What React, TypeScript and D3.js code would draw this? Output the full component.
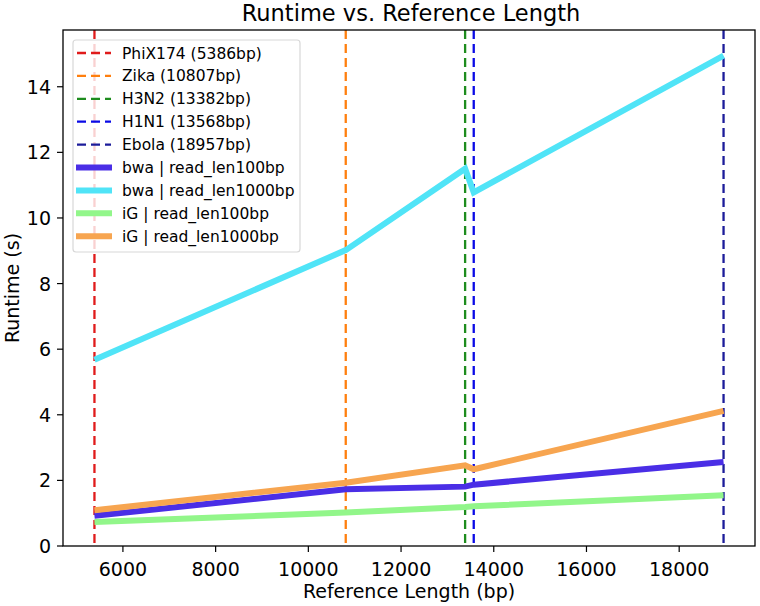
import React from "react";
import * as d3 from "d3";

const refNames = ["PhiX174", "Zika", "H3N2", "H1N1", "Ebola"];
const refLengths = [5386, 10807, 13382, 13568, 18957];
const refColors = ["#e01b1b", "#ff7f0e", "#1e8c1e", "#0a0ae6", "#1c1c9a"];

const seriesNames = ["bwa | read_len100bp", "bwa | read_len1000bp", "iG | read_len100bp", "iG | read_len1000bp"];
const seriesColors = ["#4a2ee6", "#50e4f7", "#92f68a", "#f7a550"];
const bwa100 = [0.92, 1.73, 1.81, 1.87, 2.56];
const bwa1000 = [5.68, 9.02, 11.5, 10.78, 14.95];
const ig100 = [0.73, 1.02, 1.19, 1.21, 1.55];
const ig1000 = [1.09, 1.93, 2.46, 2.34, 4.12];
const seriesValues = [bwa100, bwa1000, ig100, ig1000];

const xTicks = [6000, 8000, 10000, 12000, 14000, 16000, 18000];
const yTicks = [0, 2, 4, 6, 8, 10, 12, 14];

const W = 760, H = 606;
const left = 63, right = 755, top = 30, bottom = 546;
const font = "DejaVu Sans, sans-serif";

export default function App() {
  const span = 18957 - 5386;
  const x = d3.scaleLinear().domain([5386 - span * 0.05, 18957 + span * 0.05]).range([left, right]);
  const y = d3.scaleLinear().domain([0, 15.73]).range([bottom, top]);
  const line = d3.line<number>().x((_, i) => x(refLengths[i])).y((v) => y(v));

  const legendItems = [
    ...refNames.map((n, i) => ({ label: `${n} (${refLengths[i]}bp)`, color: refColors[i], dashed: true })),
    ...seriesNames.map((n, i) => ({ label: n, color: seriesColors[i], dashed: false })),
  ];

  return (
    <svg width={W} height={H} style={{ position: "absolute", left: 0, top: 0, background: "#fff" }}>
      <rect x={0} y={0} width={W} height={H} fill="#fff" />
      <text x={(left + right) / 2 + 2} y={21} textAnchor="middle" fontFamily={font} fontSize={22.5} fill="#000">
        Runtime vs. Reference Length
      </text>
      <defs>
        <clipPath id="plot">
          <rect x={left} y={top} width={right - left} height={bottom - top} />
        </clipPath>
      </defs>
      <g clipPath="url(#plot)">
        {refLengths.map((r, i) => (
          <line key={i} x1={x(r)} x2={x(r)} y1={top} y2={bottom} stroke={refColors[i]} strokeWidth={2.3} strokeDasharray="9,5" />
        ))}
        {seriesValues.map((vals, i) => (
          <path key={i} d={line(vals) || ""} fill="none" stroke={seriesColors[i]} strokeWidth={6} strokeLinejoin="miter" />
        ))}
      </g>
      <rect x={left} y={top} width={right - left} height={bottom - top} fill="none" stroke="#000" strokeWidth={1.3} />
      {xTicks.map((t) => (
        <g key={t}>
          <line x1={x(t)} x2={x(t)} y1={bottom} y2={bottom + 6} stroke="#000" strokeWidth={1.2} />
          <text x={x(t)} y={bottom + 30} textAnchor="middle" fontFamily={font} fontSize={19}>{t}</text>
        </g>
      ))}
      {yTicks.map((t) => (
        <g key={t}>
          <line x1={left - 6} x2={left} y1={y(t)} y2={y(t)} stroke="#000" strokeWidth={1.2} />
          <text x={left - 12} y={y(t) + 7} textAnchor="end" fontFamily={font} fontSize={19}>{t}</text>
        </g>
      ))}
      <text x={(left + right) / 2} y={598} textAnchor="middle" fontFamily={font} fontSize={19}>Reference Length (bp)</text>
      <text transform={`translate(19,${(top + bottom) / 2}) rotate(-90)`} textAnchor="middle" fontFamily={font} fontSize={19}>Runtime (s)</text>
      <g>
        <rect x={73} y={40} width={227} height={212} rx={3} fill="#fff" fillOpacity={0.8} stroke="#d8d8d8" strokeWidth={1.2} />
        {legendItems.map((it, i) => {
          const cy = 53 + i * 22.9;
          return (
            <g key={i}>
              {it.dashed ? (
                <line x1={77} x2={111} y1={cy} y2={cy} stroke={it.color} strokeWidth={2.3} strokeDasharray="9,5" />
              ) : (
                <line x1={76} x2={112} y1={cy} y2={cy} stroke={it.color} strokeWidth={6} />
              )}
              <text x={122} y={cy + 5.5} fontFamily={font} fontSize={15.5}>{it.label}</text>
            </g>
          );
        })}
      </g>
    </svg>
  );
}
